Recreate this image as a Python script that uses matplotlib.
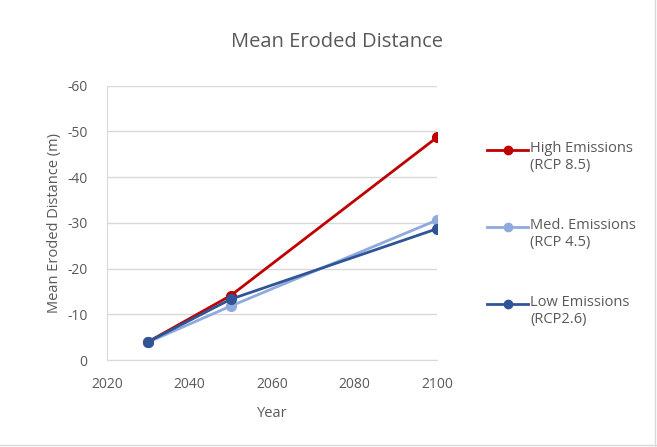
import matplotlib
matplotlib.use("Agg")
import matplotlib.pyplot as plt
from matplotlib.lines import Line2D

plt.rcParams['font.family'] = ['Open Sans', 'DejaVu Sans']

years = [2030, 2050, 2100]
high = [-4.0, -14.1, -48.7]
med = [-3.9, -11.8, -30.6]
low = [-4.0, -13.3, -28.7]
labels = ["High Emissions\n(RCP 8.5)", "Med. Emissions\n(RCP 4.5)", "Low Emissions\n(RCP2.6)"]
colors = ["#C00000", "#8FAADC", "#2F5597"]
xticks = [2020, 2040, 2060, 2080, 2100]
yticks = [0, -10, -20, -30, -40, -50, -60]

txt = "#595959"
fig = plt.figure(figsize=(6.57, 4.47), dpi=100)
ax = fig.add_axes([107/657, 1-360/447, 330/657, (360-85.7)/447])

series = [high, med, low]
for vals, c in zip(series, colors):
    ax.plot(years, vals, color=c, lw=2, marker='o', ms=7, zorder=3)

ax.set_xlim(2020, 2100)
ax.set_ylim(0, -60)
ax.set_xticks(xticks)
ax.set_yticks(yticks)
ax.set_yticklabels([str(t) for t in yticks])
ax.tick_params(length=0, labelsize=10, colors=txt)
ax.tick_params(axis='x', pad=12)
ax.tick_params(axis='y', pad=14)
ax.grid(axis='y', color='#D9D9D9', lw=1)
ax.set_axisbelow(True)
for s in ['top', 'right']:
    ax.spines[s].set_visible(False)
for s in ['left', 'bottom']:
    ax.spines[s].set_color('#D9D9D9')
ax.set_xlabel("Year", fontsize=10.5, color=txt, labelpad=10)
ax.set_ylabel("Mean Eroded Distance (m)", fontsize=10.5, color=txt, labelpad=4)
fig.text(337/657, 1-42/447, "Mean Eroded Distance", fontsize=14.5, color=txt, ha='center', va='center')

# legend (manual)
ys = [150, 227, 304]
for y, c, lab in zip(ys, colors, labels):
    fy = 1 - y/447
    fig.add_artist(Line2D([487/657, 528/657], [fy, fy], color=c, lw=2))
    fig.add_artist(Line2D([507.5/657], [fy], color=c, marker='o', ms=6))
    fig.text(530/657, fy + 9/447, lab, fontsize=10.5, color=txt, ha='left', va='top', linespacing=1.2)

# border
fig.add_artist(Line2D([655/657, 655/657], [0, 1], color='#D9D9D9', lw=1))
fig.add_artist(Line2D([0, 1], [2/447, 2/447], color='#D9D9D9', lw=1))

fig.savefig("out.png", dpi=100)
